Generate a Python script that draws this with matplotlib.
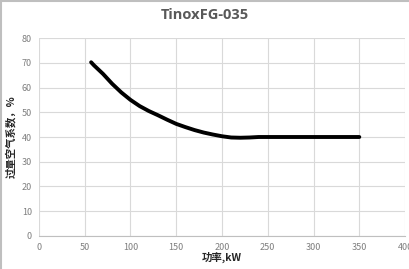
import numpy as np
import matplotlib.pyplot as plt
from matplotlib.lines import Line2D

plt.rcParams['font.family'] = ['Noto Sans CJK SC', 'DejaVu Sans']

# power, kW and excess air ratio, %
power = [57, 60, 70, 80, 90, 100, 110, 120, 130, 140, 150, 160, 170,
         180, 190, 200, 210, 220, 230, 240, 250, 300, 350]
excess_air = [70.2, 69.0, 65.5, 61.5, 58.0, 55.0, 52.5, 50.5, 48.8, 47.0,
              45.3, 44.0, 42.8, 41.8, 41.0, 40.3, 39.8, 39.7, 39.8, 40.0,
              40.0, 40.0, 40.0]
x_ticks = [0, 50, 100, 150, 200, 250, 300, 350, 400]
y_ticks = [0, 10, 20, 30, 40, 50, 60, 70, 80]

fig = plt.figure(figsize=(4.10, 2.69), dpi=100)
ax = fig.add_axes([0.095, 0.1227, 0.893, 0.736])

ax.plot(power, excess_air, color='black', lw=2.8, solid_capstyle='round',
        solid_joinstyle='round', zorder=3)

ax.set_xlim(0, 400)
ax.set_ylim(0, 80)
ax.set_xticks(x_ticks)
ax.set_yticks(y_ticks)
ax.grid(True, color='#d9d9d9', lw=0.8)
ax.set_axisbelow(True)
for s in ['top', 'right', 'left']:
    ax.spines[s].set_visible(False)
ax.spines['bottom'].set_color('#bfbfbf')
ax.tick_params(length=0, labelsize=6.5, labelcolor='#7f7f7f', pad=5)
ax.tick_params(axis='y', pad=5)

ax.set_xlabel('功率,kW', fontsize=7.5, fontweight='bold', color='#262626', labelpad=0)
ax.set_ylabel('过量空气系数，%', fontsize=7.5, fontweight='bold', color='#262626', labelpad=4)
fig.text(0.5, 0.945, 'TinoxFG-035', ha='center', va='center', fontsize=10.5,
         fontweight='bold', color='#595959', family=['Open Sans', 'DejaVu Sans'])

# frame around the chart area (top and left visible)
fig.add_artist(Line2D([0, 1], [0.996, 0.996], color='#bfbfbf', lw=1.5))
fig.add_artist(Line2D([0.003, 0.003], [0, 1], color='#bfbfbf', lw=1.5))

fig.savefig('out.png', dpi=100)
